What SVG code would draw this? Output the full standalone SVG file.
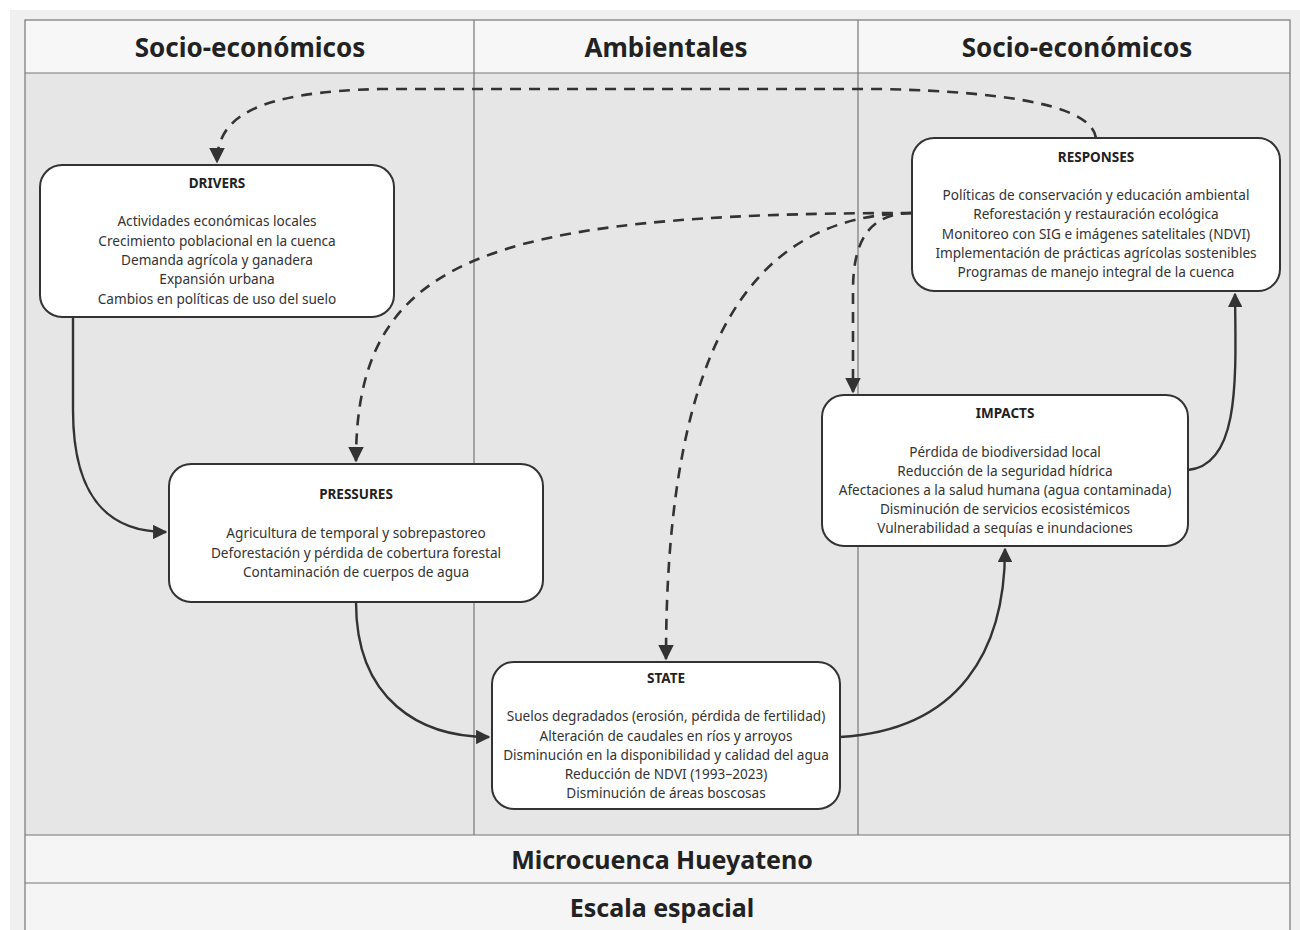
<svg xmlns="http://www.w3.org/2000/svg" width="1300" height="930" viewBox="0 0 1300 930">
<defs>
<style>
.hdr{font-family:"Noto Sans","Open Sans",sans-serif;font-weight:bold;font-size:26px;fill:#222;text-anchor:middle}
.ftr{font-family:"Noto Sans","Open Sans",sans-serif;font-weight:bold;font-size:25px;fill:#222;text-anchor:middle}
.box{fill:#fff;stroke:#333;stroke-width:2}
.ttl{font-family:"Noto Sans","Open Sans",sans-serif;font-weight:bold;font-size:13.5px;fill:#222;text-anchor:middle}
.txt{font-family:"Noto Sans","Open Sans",sans-serif;font-size:13.6px;fill:#333;text-anchor:middle}
.grid{stroke:#777;stroke-width:1.2;fill:none}
.solid{fill:none;stroke:#333;stroke-width:2.4}
.dash{fill:none;stroke:#333;stroke-width:2.6;stroke-dasharray:11 8}
</style>
<marker id="ah" viewBox="0 0 10 10" refX="9" refY="5" markerWidth="6" markerHeight="6" orient="auto" markerUnits="strokeWidth">
<path d="M0,0 L10,5 L0,10 z" fill="#333"/>
</marker>
</defs>
<rect x="0" y="0" width="1300" height="930" fill="#fff"/>
<rect x="10" y="10" width="1290" height="920" fill="#f0f0f0"/>
<g id="table">
<rect x="25" y="20" width="1265" height="53" fill="#f7f7f7"/>
<rect x="25" y="73" width="1265" height="762" fill="#e6e6e6"/>
<rect x="25" y="835" width="1265" height="95" fill="#f5f5f5"/>
<rect x="25" y="20" width="1265" height="915" class="grid"/>
<line x1="25" y1="73" x2="1290" y2="73" class="grid"/>
<line x1="25" y1="835" x2="1290" y2="835" class="grid"/>
<line x1="25" y1="883" x2="1290" y2="883" class="grid"/>
<line x1="474" y1="20" x2="474" y2="835" class="grid"/>
<line x1="858" y1="20" x2="858" y2="835" class="grid"/>
<text x="250" y="57" class="hdr">Socio-económicos</text>
<text x="666" y="57" class="hdr">Ambientales</text>
<text x="1077" y="57" class="hdr">Socio-económicos</text>
<text x="662" y="869" class="ftr">Microcuenca Hueyateno</text>
<text x="662" y="917" class="ftr">Escala espacial</text>
</g>
<g id="connectors">
<path class="dash" d="M1096,138 C1092,108 1020,92 880,89 L380,89 C260,92 217,115 217,162" marker-end="url(#ah)"/>
<path class="dash" d="M912,213 C480,213 356,260 356,461" marker-end="url(#ah)"/>
<path class="dash" d="M912,213 C760,215 666,330 666,659" marker-end="url(#ah)"/>
<path class="dash" d="M912,213 C870,213 853,240 853,290 L853,392" marker-end="url(#ah)"/>
<path class="solid" d="M73,317 L73,410 C73,500 110,532 166,532" marker-end="url(#ah)"/>
<path class="solid" d="M356,602 C356,700 420,737 489,737" marker-end="url(#ah)"/>
<path class="solid" d="M840,737 C960,730 1005,650 1005,549" marker-end="url(#ah)"/>
<path class="solid" d="M1188,470 C1240,465 1236,380 1235,294" marker-end="url(#ah)"/>
</g>
<g id="drivers">
<rect x="40" y="165" width="354" height="152" rx="22" class="box"/>
<text x="217" y="188" class="ttl">DRIVERS</text>
<text x="217" y="226" class="txt">Actividades económicas locales</text>
<text x="217" y="246" class="txt">Crecimiento poblacional en la cuenca</text>
<text x="217" y="265" class="txt">Demanda agrícola y ganadera</text>
<text x="217" y="284" class="txt">Expansión urbana</text>
<text x="217" y="304" class="txt">Cambios en políticas de uso del suelo</text>
</g>
<g id="responses">
<rect x="912" y="138" width="368" height="153" rx="22" class="box"/>
<text x="1096" y="162" class="ttl">RESPONSES</text>
<text x="1096" y="200" class="txt">Políticas de conservación y educación ambiental</text>
<text x="1096" y="219" class="txt">Reforestación y restauración ecológica</text>
<text x="1096" y="239" class="txt">Monitoreo con SIG e imágenes satelitales (NDVI)</text>
<text x="1096" y="258" class="txt">Implementación de prácticas agrícolas sostenibles</text>
<text x="1096" y="277" class="txt">Programas de manejo integral de la cuenca</text>
</g>
<g id="pressures">
<rect x="169" y="464" width="374" height="138" rx="22" class="box"/>
<text x="356" y="499" class="ttl">PRESSURES</text>
<text x="356" y="538" class="txt">Agricultura de temporal y sobrepastoreo</text>
<text x="356" y="558" class="txt">Deforestación y pérdida de cobertura forestal</text>
<text x="356" y="577" class="txt">Contaminación de cuerpos de agua</text>
</g>
<g id="impacts">
<rect x="822" y="395" width="366" height="151" rx="22" class="box"/>
<text x="1005" y="418" class="ttl">IMPACTS</text>
<text x="1005" y="457" class="txt">Pérdida de biodiversidad local</text>
<text x="1005" y="476" class="txt">Reducción de la seguridad hídrica</text>
<text x="1005" y="495" class="txt">Afectaciones a la salud humana (agua contaminada)</text>
<text x="1005" y="514" class="txt">Disminución de servicios ecosistémicos</text>
<text x="1005" y="533" class="txt">Vulnerabilidad a sequías e inundaciones</text>
</g>
<g id="state">
<rect x="492" y="662" width="348" height="147" rx="22" class="box"/>
<text x="666" y="683" class="ttl">STATE</text>
<text x="666" y="721" class="txt">Suelos degradados (erosión, pérdida de fertilidad)</text>
<text x="666" y="741" class="txt">Alteración de caudales en ríos y arroyos</text>
<text x="666" y="760" class="txt">Disminución en la disponibilidad y calidad del agua</text>
<text x="666" y="779" class="txt">Reducción de NDVI (1993–2023)</text>
<text x="666" y="798" class="txt">Disminución de áreas boscosas</text>
</g>
</svg>
